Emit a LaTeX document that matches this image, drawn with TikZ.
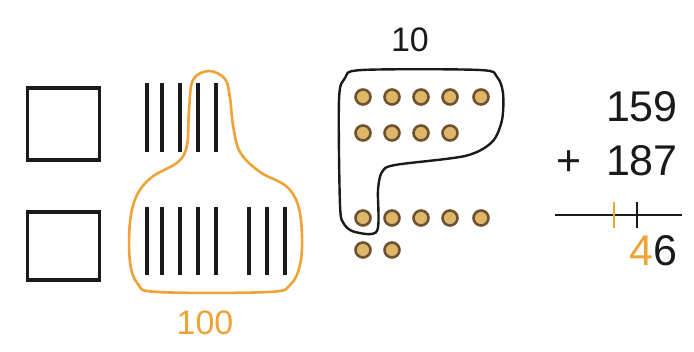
\documentclass[tikz,border=0pt]{standalone}
\usepackage{fontspec}
\setmainfont{Liberation Sans}
\definecolor{orng}{HTML}{EFA235}
\definecolor{dotfill}{HTML}{DDB66A}
\definecolor{dotline}{HTML}{6E5230}
\definecolor{ink}{HTML}{1A1A1A}
\begin{document}
\begin{tikzpicture}[x=1pt,y=-1pt,
  box/.style={draw=ink,line width=3.4pt},
  stick/.style={draw=ink,line width=3.2pt},
  bead/.style={circle,draw=dotline,fill=dotfill,line width=2.6pt,minimum size=15pt,inner sep=0pt},
  big/.style={font=\fontsize{43}{43}\selectfont,inner sep=0pt,text=ink},
  small/.style={font=\fontsize{34}{34}\selectfont,inner sep=0pt}]
\useasboundingbox (0,0) rectangle (694,352);
\fill[white] (0,0) rectangle (694,352);
% squares
\node[box,minimum width=72pt,minimum height=72pt,inner sep=0pt] (sq1) at (63.5,124) {};
\node[box,minimum width=72pt,minimum height=68pt,inner sep=0pt] (sq2) at (63.5,246) {};
% sticks
\foreach \x in {147,162,180,198,216}{\draw[stick] (\x,83) -- (\x,152);}
\foreach \x in {147,162,180,198,216,249,267,285}{\draw[stick] (\x,207) -- (\x,275);}
% orange blob
\draw[orng,line width=2.6pt] plot[smooth cycle,tension=0.6] coordinates{
(209,71) (225,79) (230,98) (233,125) (240,152) (260,172) (286,186) (298,205) (302,235) (300,265) (290,285) (268,292) (158,292) (138,284) (130,262) (130,222) (137,195) (152,177) (178,162) (187,145) (189,110) (193,80)};
\node[small,text=orng,anchor=base] (hundred) at (205,335) {100};
% beads
\foreach \i/\x in {1/363,2/392,3/421,4/450,5/481}{\node[bead] (a\i) at (\x,97) {};}
\foreach \i/\x in {1/363,2/392,3/421,4/450}{\node[bead] (b\i) at (\x,133) {};}
\foreach \i/\x in {1/363,2/392,3/421,4/450,5/481}{\node[bead] (c\i) at (\x,218) {};}
\foreach \i/\x in {1/363,2/392}{\node[bead] (d\i) at (\x,250) {};}
% black blob
\draw[ink,line width=2.4pt] plot[smooth cycle,tension=0.5] coordinates{
(362,70) (480,70) (497,77) (503,93) (502,120) (492,142) (465,156) (395,165) (382,172) (378,190) (377,231) (355,232) (344,224) (340,205) (339,100) (345,78)};
\node[small,text=ink,anchor=base] (ten) at (410,52) {10};
% column addition
\node[big,anchor=base east] (n1) at (678,122) {159};
\node[big,anchor=base east] (n2) at (678,176) {187};
\node[big,anchor=base] (plus) at (569,176) {+};
\draw[ink,line width=2.8pt] (555,215) -- (682,215);
\draw[orng,line width=2.4pt] (614,202) -- (614,228);
\draw[ink,line width=2.8pt] (637,202) -- (637,228);
\node[big,anchor=base east] (res) at (678,266) {\textcolor{orng}{4}6};
\end{tikzpicture}
\end{document}
